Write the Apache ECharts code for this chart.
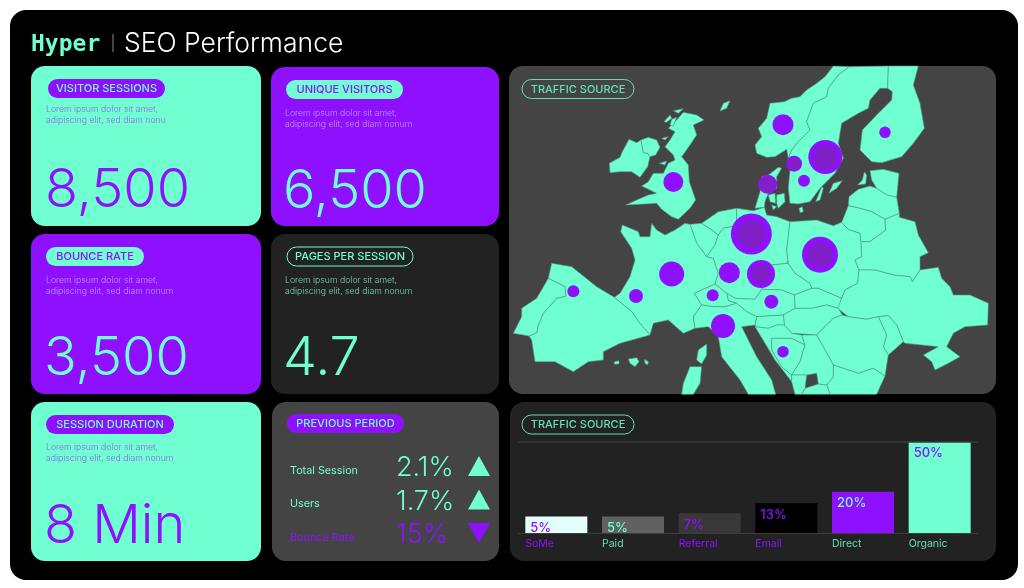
<!DOCTYPE html>
<html>
<head>
<meta charset="utf-8">
<title>SEO Performance</title>
<script src="https://cdn.jsdelivr.net/npm/echarts@6/dist/echarts.min.js"></script>
<style>
html, body { margin: 0; padding: 0; background: #fff; }
#main { width: 1024px; height: 588px; }
</style>
</head>
<body>
<div id="main"></div>
<script>
const mint = '#6FFFD0'
const purple = '#8F10FF'
const FONT = 'Inter, "Noto Sans", sans-serif'

// kpi cards
const kpiLabels = ['VISITOR SESSIONS', 'UNIQUE VISITORS', 'BOUNCE RATE', 'PAGES PER SESSION', 'SESSION DURATION']
const kpiValues = ['8,500', '6,500', '3,500', '4.7', '8 Min']
const kpiNotes = [
    'Lorem ipsum dolor sit amet,\nadipiscing elit, sed diam nonu',
    'Lorem ipsum dolor sit amet,\nadipiscing elit, sed diam nonum',
    'Lorem ipsum dolor sit amet,\nadipiscing elit, sed diam nonum',
    'Lorem ipsum dolor sit amet,\nadipiscing elit, sed diam nonum',
    'Lorem ipsum dolor sit amet,\nadipiscing elit, sed diam nonum',
]

// previous period
const periodLabels = ['Total Session', 'Users', 'Bounce Rate']
const periodValues = ['2.1%', '1.7%', '15%']
const periodUp = [true, true, false]

// traffic bars
const sources = ['SoMe', 'Paid', 'Referral', 'Email', 'Direct', 'Organic']
const shares = [5, 5, 7, 13, 20, 50]
const sourceColors = ['#E2FFFA', '#616161', '#383838', '#000000', purple, mint]
const shareLabelColors = [purple, mint, purple, purple, mint, purple]
const sourceLabelTones = ['p', 'm', 'p', 'p', 'm', 'm']

// bubbles on the map: map x, map y, size
const trafficBubbles = [
    [739, 522, 41], [945, 584, 36], [961, 291, 34], [768, 642, 28], [500, 642, 25],
    [673, 638, 21], [654, 798, 24], [505, 366, 20], [834, 194, 21], [1140, 217, 11.5],
    [393, 708, 14], [205, 694, 12], [623, 706, 12], [799, 725, 14], [834, 875, 11.5],
    [788, 373, 19], [867, 311, 16], [897, 362, 12],
]
const bubbleCores = [
    [739, 522, 28], [945, 584, 25], [961, 291, 24], [768, 642, 19],
    [788, 373, 16], [867, 311, 13],
]

// map outlines, traced in map units
const regions = [
    ['Ireland', [[313,310],[345,292],[352,275],[372,238],[395,248],[408,240],[412,262],[415,278],[428,280],[435,290],[428,320],[405,352],[380,335],[345,335],[315,338]]],
    ['N Ireland', [[408,240],[430,232],[455,240],[465,262],[452,285],[435,290],[428,280],[415,278],[412,262]]],
    ['Britain', [[535,157],[575,165],[597,180],[565,195],[575,225],[555,255],[530,290],[550,315],[553,365],[572,420],[555,445],[520,478],[500,470],[470,448],[455,430],[420,432],[362,435],[395,420],[430,405],[455,400],[410,378],[430,365],[445,340],[475,340],[490,310],[510,300],[505,285],[480,260],[495,240],[510,215],[490,205],[515,180]]],
    ['Isle 1', [[477,185],[495,165],[500,175],[485,187]]],
    ['Isle 2', [[505,152],[535,146],[520,160]]],
    ['Isle 3', [[500,178],[515,172],[505,198],[495,195]]],
    ['Isle 4', [[470,235],[490,230],[480,240]]],
    ['Isle 5', [[463,310],[485,303],[480,315]]],
    ['Isle 6', [[645,153],[655,130],[675,122],[665,145]]],
    ['Norway', [[985,18],[1033,20],[1000,45],[970,85],[965,110],[925,130],[905,185],[915,210],[880,245],[860,270],[850,295],[845,268],[810,290],[785,292],[755,280],[750,255],[770,230],[760,205],[785,175],[795,130],[838,125],[860,115],[885,110],[905,90],[935,70],[960,50]]],
    ['Sweden', [[1033,20],[1150,18],[1148,85],[1125,85],[1095,120],[1090,145],[1060,160],[1010,190],[1000,250],[1015,295],[990,340],[960,370],[945,385],[915,425],[880,432],[855,430],[850,385],[855,330],[850,295],[860,270],[880,245],[915,210],[905,185],[925,130],[965,110],[970,85],[1000,45]]],
    ['Finland', [[1150,18],[1240,18],[1225,75],[1245,130],[1258,205],[1225,250],[1190,290],[1130,308],[1100,305],[1065,270],[1072,210],[1120,160],[1160,120],[1162,95],[1148,85]]],
    ['Oland', [[932,425],[950,380],[955,385],[945,420]]],
    ['Gotland', [[972,400],[985,370],[1012,362],[995,385]]],
    ['Bornholm', [[882,445],[892,440],[895,455],[885,458]]],
    ['Saaremaa', [[1058,375],[1072,360],[1078,336],[1085,345],[1082,372]]],
    ['Jutland', [[750,445],[765,395],[770,350],[790,345],[820,322],[830,325],[815,350],[815,385],[790,400],[780,425],[778,442]]],
    ['Funen', [[790,405],[810,400],[812,430],[795,425]]],
    ['Zealand', [[815,405],[838,400],[840,425],[820,445],[815,430]]],
    ['Lolland', [[800,435],[815,440],[805,450]]],
    ['Netherlands', [[590,490],[640,455],[695,445],[695,497],[655,505],[640,525],[620,510]]],
    ['Belgium', [[555,493],[590,490],[620,510],[640,525],[630,555],[605,590],[575,550]]],
    ['France', [[347,515],[352,495],[400,515],[405,530],[435,530],[440,490],[455,510],[480,525],[510,510],[540,490],[555,493],[575,550],[605,590],[625,595],[640,640],[630,672],[568,700],[590,735],[565,770],[570,805],[535,820],[490,780],[445,790],[435,825],[405,790],[380,755],[328,712],[345,700],[375,650],[390,600],[380,565]]],
    ['Germany', [[695,445],[745,452],[778,442],[785,465],[815,470],[855,485],[845,570],[850,610],[800,615],[770,688],[750,718],[690,715],[665,700],[630,672],[640,640],[625,595],[605,590],[630,555],[640,525],[655,505],[695,497]]],
    ['Poland', [[855,485],[935,480],[985,497],[1010,487],[1030,508],[1065,520],[1068,545],[1070,590],[1050,600],[1062,630],[1058,670],[1020,690],[1010,715],[940,685],[920,685],[915,670],[870,640],[845,605],[850,610],[845,570]]],
    ['Czechia', [[800,615],[850,610],[845,605],[870,640],[915,670],[920,685],[868,705],[830,690],[770,688]]],
    ['Slovakia', [[868,705],[920,685],[940,685],[1010,715],[1000,745],[965,735],[920,745],[870,745]]],
    ['Austria', [[665,700],[690,715],[750,718],[770,688],[830,690],[868,705],[870,745],[835,765],[755,770],[725,755],[695,730],[670,722]]],
    ['Switzerland', [[568,700],[630,672],[665,700],[670,722],[695,730],[660,740],[625,740],[590,735]]],
    ['Italy', [[590,735],[625,740],[660,740],[695,730],[725,755],[755,770],[750,795],[710,800],[755,890],[800,960],[812,1003],[730,1003],[705,960],[650,890],[640,830],[610,800],[570,805],[565,770]]],
    ['Corsica', [[580,870],[605,852],[605,885],[590,912],[575,900]]],
    ['Sardinia', [[555,920],[590,920],[585,970],[565,1003],[530,1003],[535,970]]],
    ['Spain', [[328,712],[380,755],[405,790],[435,825],[345,850],[295,875],[295,900],[250,905],[205,935],[150,905],[90,905],[80,840],[72,828],[95,818],[100,795],[115,760],[155,715],[182,708],[180,680],[130,655],[140,610],[200,620],[275,680]]],
    ['Portugal', [[130,655],[180,680],[182,708],[155,715],[115,760],[100,795],[95,818],[72,828],[25,820],[50,770],[50,745],[95,715]]],
    ['Mallorca', [[370,897],[395,893],[402,905],[390,920],[375,910]]],
    ['Ibiza', [[328,905],[342,902],[342,912],[328,913]]],
    ['Menorca', [[418,898],[430,905],[428,915],[420,910]]],
    ['Estonia', [[1095,332],[1135,328],[1182,340],[1175,412],[1145,405],[1115,385],[1100,360]]],
    ['Latvia', [[1030,437],[1032,410],[1060,388],[1095,378],[1115,385],[1145,405],[1175,412],[1183,460],[1140,478],[1100,455],[1065,445]]],
    ['Lithuania', [[1030,437],[1065,445],[1100,455],[1140,478],[1142,510],[1095,545],[1068,545],[1065,520],[1030,508],[1010,487]]],
    ['Belarus', [[1140,478],[1183,460],[1183,472],[1230,485],[1240,525],[1270,578],[1245,590],[1245,630],[1222,665],[1215,650],[1165,645],[1110,630],[1062,630],[1050,600],[1070,590],[1068,545],[1095,545],[1142,510]]],
    ['Ukraine', [[1062,630],[1110,630],[1165,645],[1215,650],[1222,665],[1245,630],[1300,622],[1310,655],[1335,680],[1345,705],[1395,705],[1450,730],[1448,795],[1380,800],[1345,820],[1325,860],[1365,890],[1330,910],[1290,930],[1280,905],[1255,885],[1300,860],[1200,850],[1195,845],[1175,795],[1150,767],[1120,770],[1085,778],[1030,770],[998,745],[1020,690],[1058,670]]],
    ['Moldova', [[1120,770],[1150,767],[1175,795],[1195,845],[1150,885],[1135,860],[1145,825]]],
    ['Hungary', [[870,745],[920,745],[965,735],[1000,745],[1012,765],[985,775],[935,825],[860,820],[838,795],[835,765]]],
    ['Romania', [[1012,765],[1030,770],[1085,778],[1120,770],[1145,825],[1135,860],[1150,885],[1140,948],[1105,925],[1060,940],[985,915],[960,870],[935,825],[985,775]]],
    ['Bulgaria', [[985,915],[1060,940],[1105,925],[1140,948],[1115,1003],[975,1003],[965,975],[985,950]]],
    ['Slovenia', [[755,770],[835,765],[838,795],[815,795],[790,805],[750,800]]],
    ['Croatia', [[750,800],[790,805],[815,795],[838,795],[860,820],[890,825],[900,855],[860,835],[800,835],[800,870],[830,920],[860,945],[860,965],[810,900],[780,850]]],
    ['Bosnia', [[800,835],[860,835],[900,855],[885,905],[860,945],[830,920],[800,870]]],
    ['Serbia', [[890,825],[935,825],[960,870],[985,915],[985,950],[965,975],[940,972],[935,940],[905,945],[860,945],[885,905],[900,855]]],
    ['Montenegro', [[860,945],[905,945],[900,985],[890,1003],[870,1003],[860,965]]],
    ['Macedonia', [[900,985],[940,972],[965,975],[975,1003],[890,1003]]],
]

function buildGeoJson() {
    return {
        type: 'FeatureCollection',
        features: regions.map(r => ({
            type: 'Feature',
            properties: { name: r[0] },
            geometry: { type: 'Polygon', coordinates: [r[1].concat([r[1][0]])] },
        })),
    }
}

function card(x, y, w, h, fill) {
    return { type: 'rect', z: -2, shape: { x: x, y: y, width: w, height: h, r: 14 }, style: { fill: fill } }
}

function label(text, x, y, fill, font, extra) {
    return {
        type: 'text', z: 10, x: x, y: y,
        style: Object.assign({ text: text, fill: fill, font: font + ' ' + FONT, align: 'left', verticalAlign: 'middle' }, extra || {}),
    }
}

function pill(text, x, y, w, bg, fg, outlined) {
    return [
        {
            type: 'rect', z: 5, shape: { x: x, y: y, width: w, height: 19, r: 9.5 },
            style: outlined ? { fill: 'none', stroke: fg, lineWidth: 1 } : { fill: bg },
        },
        {
            type: 'text', z: 10, x: x + w / 2, y: y + 10,
            style: { text: text, fill: fg, font: '500 11px ' + FONT, align: 'center', verticalAlign: 'middle' },
        },
    ]
}

const kpiCards = [
    { x: 31, y: 66, w: 230, h: 160, bg: mint, fg: purple, pillX: 48, pillW: 117, pillBg: purple, pillFg: mint, tx: 45, noteX: 46, noteY: 115, note: '#9a5cf0' },
    { x: 271, y: 67, w: 228, h: 159, bg: purple, fg: mint, pillX: 286, pillW: 117, pillBg: mint, pillFg: purple, tx: 283, noteX: 285, noteY: 119, note: '#b59bff' },
    { x: 31, y: 234, w: 230, h: 160, bg: purple, fg: mint, pillX: 46, pillW: 98, pillBg: mint, pillFg: purple, tx: 44, noteX: 46, noteY: 286, note: '#b59bff' },
    { x: 271, y: 234, w: 228, h: 160, bg: '#222222', fg: mint, pillX: 287, pillW: 126, pillFg: mint, outlined: true, tx: 283, noteX: 285, noteY: 286, note: '#6fd9b4' },
    { x: 31, y: 402, w: 230, h: 159, bg: mint, fg: purple, pillX: 46, pillW: 128, pillBg: purple, pillFg: mint, tx: 44, noteX: 46, noteY: 453, note: '#9a5cf0' },
]

function buildGraphics() {
    let els = [
        { type: 'rect', z: -3, shape: { x: 10, y: 10, width: 1008, height: 570, r: 16 }, style: { fill: '#000' } },
        label('Hyper', 31, 45, mint, 'bold 23px', { font: 'bold 23px "DejaVu Sans Mono", monospace' }),
        { type: 'line', z: 5, shape: { x1: 113, y1: 34, x2: 113, y2: 52 }, style: { stroke: '#8a8a8a', lineWidth: 1 } },
        label('SEO Performance', 124, 44, '#ffffff', '300 26.5px'),
        card(272, 402, 227, 159, '#444444'),
        card(509, 66, 487, 328, '#444444'),
        card(510, 402, 486, 159, '#222222'),
    ]
    kpiCards.forEach((c, i) => {
        els.push(card(c.x, c.y, c.w, c.h, c.bg))
        els = els.concat(pill(kpiLabels[i], c.pillX, c.y + 13, c.pillW, c.pillBg, c.pillFg, c.outlined))
        els.push(label(kpiNotes[i], c.noteX, c.noteY, c.note, '300 8.7px', { lineHeight: 10.5 }))
        els.push(label(kpiValues[i], c.tx, c.y + 125, c.fg, '300 54px'))
    })
    // previous period rows
    els = els.concat(pill('PREVIOUS PERIOD', 287, 414, 117, purple, mint))
    periodLabels.forEach((name, i) => {
        const y = 470 + i * 33.5
        const color = periodUp[i] ? mint : purple
        els.push(label(name, 290, y + 0.5, color, '400 10.8px'))
        els.push(label(periodValues[i], 396, y - 2, color, '300 27px'))
        const pts = periodUp[i]
            ? [[468, y + 6], [479, y - 14], [490, y + 6]]
            : [[468, y - 14], [490, y - 14], [479, y + 6]]
        els.push({ type: 'polygon', z: 10, shape: { points: pts }, style: { fill: color } })
    })
    els = els.concat(pill('TRAFFIC SOURCE', 522, 79.5, 112, null, '#62E0B8', true))
    els = els.concat(pill('TRAFFIC SOURCE', 522, 415, 112, null, '#62E0B8', true))
    return els
}

echarts.registerMap('europe', buildGeoJson())

const chart = echarts.init(document.getElementById('main'), null, { renderer: 'canvas' })

const tickRich = {
    p: { color: purple, width: 62, align: 'left', fontFamily: FONT, fontSize: 10.5 },
    m: { color: '#62E0B8', width: 62, align: 'left', fontFamily: FONT, fontSize: 10.5 },
}

chart.setOption({
    animation: false,
    backgroundColor: '#ffffff',
    graphic: { elements: buildGraphics() },
    geo: {
        map: 'europe',
        left: 505, top: 60, width: 500, height: 340,
        aspectScale: 1,
        roam: false,
        silent: true,
        boundingCoords: [[0, 0], [1500, 1020]],
        projection: { project: p => p, unproject: p => p },
        label: { show: false },
        itemStyle: { areaColor: mint, borderColor: '#4f9a83', borderWidth: 0.6 },
        emphasis: { disabled: true },
    },
    grid: { left: 518, top: 442, width: 460, height: 91, containLabel: false },
    xAxis: {
        type: 'category',
        data: sources,
        axisTick: { show: false },
        axisLine: { onZero: false, lineStyle: { color: '#3d3d3d', width: 1 } },
        axisLabel: {
            interval: 0,
            margin: 5,
            formatter: (v, i) => '{' + sourceLabelTones[i] + '|' + v + '}',
            rich: tickRich,
        },
    },
    yAxis: {
        type: 'value',
        min: -5,
        max: 50,
        startValue: -5,
        show: false,
        splitLine: { show: false },
    },
    series: [
        {
            type: 'scatter',
            coordinateSystem: 'geo',
            geoIndex: 0,
            z: 3,
            silent: true,
            data: trafficBubbles,
            symbolSize: v => v[2],
            itemStyle: { color: purple, opacity: 1 },
        },
        {
            type: 'scatter',
            coordinateSystem: 'geo',
            geoIndex: 0,
            z: 4,
            silent: true,
            data: bubbleCores,
            symbolSize: v => v[2],
            itemStyle: { color: '#8120C8', opacity: 1 },
        },
        {
            type: 'bar',
            barWidth: 62,
            silent: true,
            data: shares.map((v, i) => ({
                value: v,
                itemStyle: { color: sourceColors[i] },
                label: { color: shareLabelColors[i] },
            })),
            label: {
                show: true,
                position: 'insideTopLeft',
                distance: 5,
                formatter: '{c}%',
                fontFamily: FONT,
                fontSize: 13,
                fontWeight: 500,
            },
            markLine: {
                silent: true,
                symbol: 'none',
                label: { show: false },
                lineStyle: { color: '#3a3a3a', width: 1.5, type: 'solid' },
                data: [{ yAxis: 50 }],
            },
        },
    ],
})
</script>
</body>
</html>
